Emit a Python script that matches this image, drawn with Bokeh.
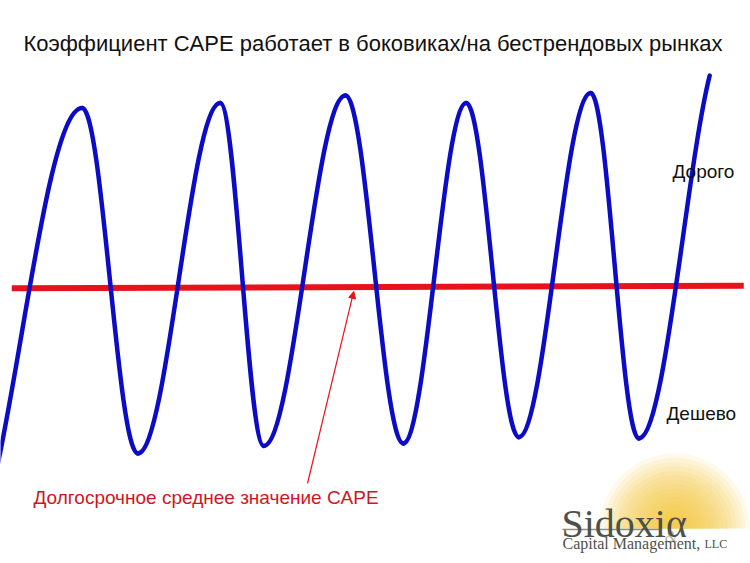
from bokeh.plotting import figure
from bokeh.models import Range1d, Label, Arrow, NormalHead
from bokeh.embed import file_html
from bokeh.resources import INLINE

# ---------------- data ----------------
# turning points of the CAPE cycle: time (years) and CAPE level
TURN_YEAR = [-5.3, 10.9, 18.3, 29.3, 35.1, 46.0, 53.7, 62.1, 69.1, 78.7, 85.1, 96.8]
TURN_CAPE = [-4.8, 31.4, 3.8, 31.8, 4.4, 32.4, 4.6, 31.8, 5.1, 32.6, 5.0, 36.8]
LAST_CAPE = 34.0          # last value, reached on the way to the final turning point

# long-term average CAPE
AVG_YEAR = [1.5, 99.1]
AVG_CAPE = [17.0, 17.2]

TITLE = "Коэффициент CAPE работает в боковиках/на бестрендовых рынках"
LBL_HIGH = "Дорого"
LBL_LOW = "Дешево"
LBL_AVG = "Долгосрочное среднее значение CAPE"

# ---------------- layout ----------------
W, H = 750, 563
X0, X1 = 0.0, 100.0
Y0, Y1 = -5.0, 40.0
BLUE = "#0c0cc6"
RED = "#e8121c"
TXT_RED = "#d0161c"
LOGO = "#4d5249"

def sx(px):   # page pixel -> data x (layout helper)
    return X0 + px / W * (X1 - X0)

def sy(py):   # page pixel -> data y (layout helper)
    return Y1 - py / H * (Y1 - Y0)

p = figure(width=W, height=H, x_range=Range1d(X0, X1), y_range=Range1d(Y0, Y1),
           x_axis_type=None, y_axis_type=None, toolbar_location=None,
           output_backend="svg", min_border=0, outline_line_color=None,
           background_fill_color="white", border_fill_color="white")

# ---- logo glow (decoration) ----
gx, gy = sx(674), sy(528)
n = 16
for i in range(n):
    r = 70 * (1 - i / n) + 5
    p.wedge(x=[gx], y=[gy], radius=r, radius_units="screen",
            start_angle=0, end_angle=3.14159, fill_color="#f5c232",
            fill_alpha=0.1, line_color=None)

# ---- average line ----
p.line(AVG_YEAR, AVG_CAPE, line_color=RED, line_width=6)

# ---- the CAPE cycle, drawn with cubic Bezier segments between turning points ----
K = 0.364
bx0, by0, bx1, by1, bcx0, bcy0, bcx1, bcy1 = ([] for _ in range(8))
for i in range(len(TURN_YEAR) - 2):
    xa, ya, xb, yb = TURN_YEAR[i], TURN_CAPE[i], TURN_YEAR[i + 1], TURN_CAPE[i + 1]
    d = xb - xa
    bx0.append(xa); by0.append(ya); bx1.append(xb); by1.append(yb)
    bcx0.append(xa + K * d); bcy0.append(ya); bcx1.append(xb - K * d); bcy1.append(yb)

# last segment, stopped where the curve reaches LAST_CAPE
xa, ya, xb, yb = TURN_YEAR[-2], TURN_CAPE[-2], TURN_YEAR[-1], TURN_CAPE[-1]
d = xb - xa
P = [(xa, ya), (xa + K * d, ya), (xb - K * d, yb), (xb, yb)]

def bez(t):
    u = 1 - t
    return tuple(u**3 * P[0][k] + 3 * u * u * t * P[1][k] + 3 * u * t * t * P[2][k] + t**3 * P[3][k]
                 for k in range(2))

lo, hi = 0.0, 1.0
for _ in range(60):
    mid = (lo + hi) / 2
    if bez(mid)[1] < LAST_CAPE:
        lo = mid
    else:
        hi = mid
t = (lo + hi) / 2

def lerp(a, b, s):
    return (a[0] + (b[0] - a[0]) * s, a[1] + (b[1] - a[1]) * s)

p01 = lerp(P[0], P[1], t); p12 = lerp(P[1], P[2], t)
p012 = lerp(p01, p12, t); pe = bez(t)
bx0.append(P[0][0]); by0.append(P[0][1]); bx1.append(pe[0]); by1.append(pe[1])
bcx0.append(p01[0]); bcy0.append(p01[1]); bcx1.append(p012[0]); bcy1.append(p012[1])

p.bezier(x0=bx0, y0=by0, x1=bx1, y1=by1, cx0=bcx0, cy0=bcy0, cx1=bcx1, cy1=bcy1,
         line_color=BLUE, line_width=4.5, line_cap="round")

# ---- arrow to the average line ----
ax_year = 47.1
ax_val = AVG_CAPE[0] + (AVG_CAPE[1] - AVG_CAPE[0]) * (ax_year - AVG_YEAR[0]) / (AVG_YEAR[1] - AVG_YEAR[0])
p.add_layout(Arrow(end=NormalHead(size=7, fill_color=RED, line_color=RED, line_width=1),
                   x_start=sx(307), y_start=sy(483), x_end=ax_year, y_end=ax_val - 0.35,
                   line_color=RED, line_width=1.2))

def lab(txt, px, py, size, color, font="Liberation Sans", align="left", style="normal", alpha=1.0):
    p.add_layout(Label(x=sx(px), y=sy(py), text=txt, text_font_size=size,
                       text_color=color, text_font=font,
                       text_align=align, text_baseline="alphabetic",
                       text_font_style=style, text_alpha=alpha))

lab(TITLE, 372.5, 43, "22px", "#111111", align="center")
lab(LBL_HIGH, 672, 171, "19px", "#111111")
lab(LBL_LOW, 666, 413, "19px", "#111111")
lab(LBL_AVG, 33, 497, "19px", TXT_RED)

# ---- logo text ----
p.segment(x0=[sx(562)], y0=[sy(529)], x1=[sx(660)], y1=[sy(529)], line_color="#8e8e84", line_width=1.5)
lab("&", 664, 536, "17px", "#aaa490", font="Liberation Serif", style="italic", alpha=0.85)
lab("Sidoxiα", 561, 523, "40px", LOGO, font="Liberation Serif")
lab("Capital Management, ", 562, 543, "16px", LOGO, font="Liberation Serif")
lab("LLC", 704, 543, "12px", LOGO, font="Liberation Serif")

open("out.html", "w").write(file_html(p, INLINE))
